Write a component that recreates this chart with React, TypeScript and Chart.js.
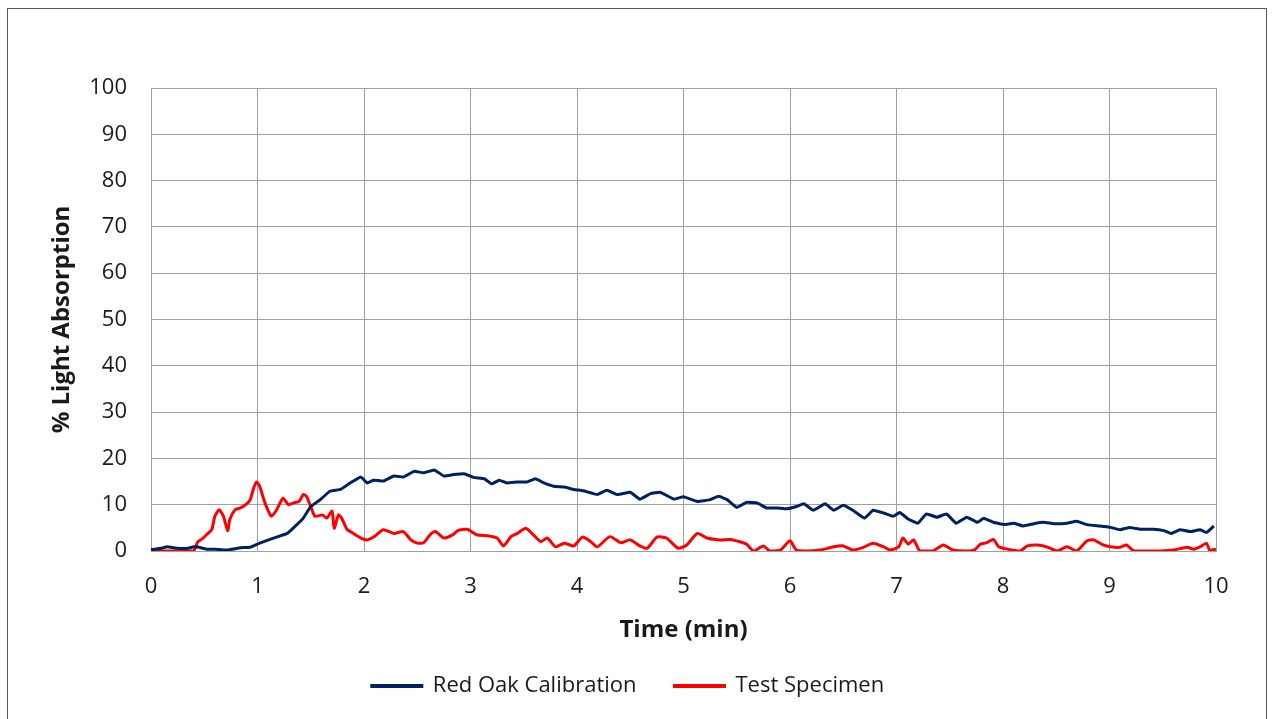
import React, { useEffect, useRef } from "react";
import { Chart, registerables } from "chart.js";

Chart.register(...registerables);

// ---- Data ----
const seriesLabels = ["Red Oak Calibration", "Test Specimen"];

const redOakTime = [
  0, 0.1, 0.15, 0.25, 0.35, 0.4, 0.45, 0.52, 0.6, 0.71, 0.84, 0.93, 1.02, 1.15, 1.28, 1.37, 1.43, 1.5,
  1.59, 1.68, 1.78, 1.87, 1.97, 2.03, 2.09, 2.18, 2.28, 2.37, 2.47, 2.56, 2.66, 2.75, 2.84, 2.94, 3.03,
  3.13, 3.2, 3.27, 3.34, 3.44, 3.53, 3.61, 3.69, 3.78, 3.88, 3.97, 4.06, 4.19, 4.28, 4.38, 4.5, 4.59,
  4.69, 4.78, 4.91, 5.0, 5.13, 5.25, 5.33, 5.41, 5.5, 5.59, 5.69, 5.78, 5.88, 5.97, 6.06, 6.13, 6.22,
  6.33, 6.41, 6.5, 6.59, 6.7, 6.78, 6.88, 6.97, 7.03, 7.11, 7.2, 7.28, 7.38, 7.47, 7.56, 7.66, 7.76,
  7.82, 7.91, 8.01, 8.1, 8.19, 8.29, 8.38, 8.48, 8.6, 8.69, 8.79, 8.91, 9.01, 9.1, 9.19, 9.29, 9.41,
  9.51, 9.58, 9.66, 9.76, 9.85, 9.91, 9.98,
];
const redOakValues = [
  0.3, 0.6, 0.9, 0.6, 0.6, 0.9, 0.8, 0.4, 0.4, 0.2, 0.7, 0.8, 1.7, 2.8, 3.8, 5.7, 7.1, 9.6,
  11.1, 12.9, 13.3, 14.7, 16.0, 14.7, 15.3, 15.1, 16.2, 16.0, 17.2, 16.9, 17.5, 16.2, 16.5, 16.7, 15.9,
  15.6, 14.5, 15.3, 14.7, 14.9, 14.9, 15.6, 14.7, 14.0, 13.8, 13.3, 13.0, 12.2, 13.1, 12.2, 12.7, 11.2,
  12.4, 12.7, 11.2, 11.7, 10.7, 11.1, 11.8, 11.1, 9.4, 10.5, 10.4, 9.3, 9.3, 9.1, 9.6, 10.2, 8.8,
  10.2, 8.8, 9.9, 8.8, 7.1, 8.8, 8.2, 7.5, 8.3, 6.9, 6.0, 8.0, 7.3, 8.0, 6.0, 7.3, 6.2,
  7.1, 6.2, 5.7, 6.0, 5.4, 5.9, 6.2, 5.9, 6.0, 6.4, 5.7, 5.4, 5.1, 4.6, 5.1, 4.7, 4.7,
  4.4, 3.8, 4.6, 4.2, 4.6, 4.0, 5.4,
];

const specimenTime = [
  0, 0.1, 0.2, 0.3, 0.4, 0.44, 0.48, 0.52, 0.57, 0.6, 0.64, 0.68, 0.72, 0.74, 0.79, 0.84, 0.89, 0.93,
  0.96, 0.99, 1.02, 1.07, 1.13, 1.18, 1.24, 1.29, 1.34, 1.39, 1.43, 1.46, 1.5, 1.54, 1.61, 1.65, 1.7,
  1.72, 1.76, 1.79, 1.84, 1.9, 1.97, 2.03, 2.09, 2.18, 2.28, 2.37, 2.44, 2.5, 2.56, 2.62, 2.67, 2.75,
  2.84, 2.88, 2.97, 3.06, 3.16, 3.25, 3.31, 3.38, 3.44, 3.52, 3.59, 3.66, 3.72, 3.8, 3.88, 3.97, 4.05,
  4.13, 4.19, 4.31, 4.41, 4.5, 4.59, 4.66, 4.75, 4.84, 4.95, 5.03, 5.13, 5.22, 5.34, 5.44, 5.53, 5.59,
  5.66, 5.75, 5.81, 5.91, 6.0, 6.06, 6.16, 6.28, 6.41, 6.5, 6.59, 6.69, 6.78, 6.88, 6.94, 7.02, 7.06,
  7.11, 7.16, 7.22, 7.34, 7.44, 7.53, 7.66, 7.73, 7.79, 7.85, 7.91, 7.96, 8.04, 8.16, 8.23, 8.32, 8.41,
  8.51, 8.6, 8.69, 8.79, 8.85, 8.94, 9.01, 9.1, 9.16, 9.23, 9.48, 9.6, 9.73, 9.79, 9.85, 9.91, 9.94, 10.0,
];
const specimenValues = [
  0, 0, 0, 0, 0, 2.0, 2.6, 3.5, 4.6, 7.5, 8.9, 7.5, 4.4, 6.8, 8.9, 9.3, 10.0, 11.0,
  13.3, 14.9, 14.0, 10.4, 7.5, 8.9, 11.4, 10.0, 10.4, 10.7, 12.2, 11.8, 9.6, 7.5, 7.8, 7.1, 8.6,
  4.9, 7.8, 7.1, 4.7, 3.8, 2.8, 2.4, 3.0, 4.6, 3.8, 4.2, 2.4, 1.7, 1.8, 3.5, 4.2, 2.8,
  3.6, 4.4, 4.7, 3.5, 3.3, 2.8, 1.1, 3.1, 3.8, 4.9, 3.5, 2.0, 2.8, 0.9, 1.7, 1.1, 3.0,
  2.0, 0.9, 3.1, 1.8, 2.4, 1.1, 0.6, 3.0, 2.8, 0.6, 1.3, 3.8, 2.8, 2.4, 2.5, 2.0, 1.5,
  0, 1.1, 0, 0.2, 2.2, 0.2, 0, 0.2, 0.9, 1.1, 0.2, 0.8, 1.7, 0.9, 0.2, 0.9, 2.8,
  1.5, 2.4, 0, 0, 1.3, 0.2, 0, 0.2, 1.5, 1.8, 2.5, 0.9, 0.4, 0, 1.1, 1.3, 0.9,
  0, 0.9, 0, 2.2, 2.4, 1.3, 0.9, 0.8, 1.3, 0, 0, 0.2, 0.8, 0.4, 0.9, 1.7, 0.2, 0.4,
];

const xAxisTitle = "Time (min)";
const yAxisTitle = "% Light Absorption";

const FONT = "'Open Sans', sans-serif";
const TEXT = "#1a1a1a";
const GRID = "#a0a0a0";

export default function App() {
  const ref = useRef<HTMLCanvasElement>(null);

  useEffect(() => {
    if (!ref.current) return;

    const frame = {
      id: "frame",
      beforeDraw(chart: any) {
        const ctx = chart.ctx;
        ctx.save();
        ctx.fillStyle = "#ffffff";
        ctx.fillRect(0, 0, chart.width, chart.height);
        ctx.strokeStyle = "#595959";
        ctx.lineWidth = 1;
        ctx.strokeRect(7.5, 8.5, 1259, chart.height + 20);
        ctx.restore();
      },
    };

    const shiftLegend = {
      id: "shiftLegend",
      afterLayout(chart: any) {
        const lg = chart.legend;
        if (!lg) return;
        lg.left += 40;
        lg.top -= 24;
        lg.bottom -= 24;
      },
    };

    const chart = new Chart(ref.current, {
      type: "line",
      data: {
        datasets: [
          {
            label: seriesLabels[0],
            data: redOakTime.map((t, i) => ({ x: t, y: redOakValues[i] })),
            borderColor: "#002060",
            backgroundColor: "#002060",
            borderWidth: 3,
            pointRadius: 0,
            tension: 0.1,
          },
          {
            label: seriesLabels[1],
            data: specimenTime.map((t, i) => ({ x: t, y: specimenValues[i] })),
            borderColor: "#ff0000",
            backgroundColor: "#ff0000",
            borderWidth: 3,
            pointRadius: 0,
            tension: 0.2,
          },
        ],
      },
      options: {
        responsive: false,
        animation: false,
        devicePixelRatio: 1,
        layout: { padding: { top: 88, left: 0, right: 58, bottom: 0 } },
        plugins: {
          tooltip: { enabled: false },
          legend: {
            position: "bottom",
            labels: {
              boxWidth: 50,
              boxHeight: 1,
              padding: 38,
              color: TEXT,
              font: { family: FONT, size: 22 },
            },
          },
        },
        scales: {
          x: {
            type: "linear",
            min: 0,
            max: 10,
            afterFit(scale: any) {
              scale.height = 110;
            },
            ticks: {
              stepSize: 1,
              padding: 23,
              color: TEXT,
              font: { family: FONT, size: 22 },
              maxRotation: 0,
            },
            grid: { color: GRID, lineWidth: 1, drawTicks: false },
            border: { color: GRID, width: 1 },
            title: {
              display: true,
              text: xAxisTitle,
              color: TEXT,
              font: { family: FONT, size: 24, weight: "bold" },
              padding: { top: 0, bottom: 16.6 },
            },
          },
          y: {
            min: 0,
            max: 100,
            afterFit(scale: any) {
              scale.width = 151;
            },
            ticks: {
              stepSize: 10,
              padding: 24,
              color: TEXT,
              font: { family: FONT, size: 22 },
            },
            grid: { color: GRID, lineWidth: 1, drawTicks: false },
            border: { color: GRID, width: 1 },
            title: {
              display: true,
              text: yAxisTitle,
              color: TEXT,
              font: { family: FONT, size: 24, weight: "bold" },
              padding: { top: 47.6, bottom: 0 },
            },
          },
        },
      },
      plugins: [frame, shiftLegend],
    } as any);

    return () => chart.destroy();
  }, []);

  return (
    <div
      style={{
        position: "absolute",
        left: 0,
        top: 0,
        width: 1274,
        height: 719,
        overflow: "hidden",
        background: "#fff",
      }}
    >
      <canvas ref={ref} width={1274} height={731} style={{ display: "block" }} />
    </div>
  );
}
